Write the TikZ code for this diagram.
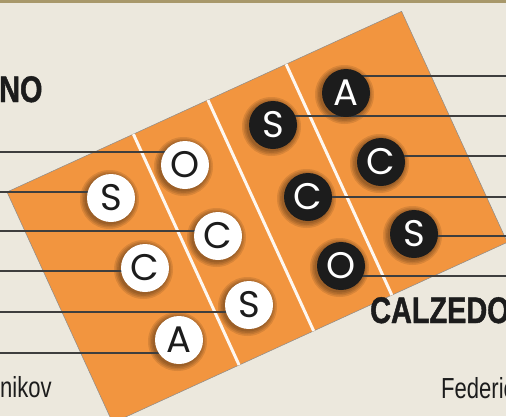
\documentclass[tikz,border=0pt]{standalone}
\usepackage{fontspec}
\newfontfamily\teamfont[FakeStretch=0.76]{Liberation Sans}
\newfontfamily\headfont[FakeStretch=0.78, FakeBold=1.2]{Liberation Sans Bold}
\newfontfamily\discfont{Poppins}
\definecolor{paper}{HTML}{ECE8DD}
\definecolor{rulecol}{HTML}{A8986A}
\definecolor{court}{HTML}{F2953F}
\definecolor{ink}{HTML}{1C1C1C}
\pgfdeclarelayer{bg}
\pgfsetlayers{bg,main}
\tikzset{
  wdisc/.style={circle, fill=white, text=ink, minimum size=48pt, inner sep=0pt,
    font=\discfont\fontsize{37}{37}\selectfont},
  bdisc/.style={wdisc, fill=ink, text=white},
  lead/.style={draw=ink!85, line width=1.3pt},
  courtline/.style={draw=white!92!court, line width=3pt},
  label/.style={anchor=base west, inner sep=0pt, text=ink}
}

\begin{document}
\begin{tikzpicture}[x=1pt, y=-1pt]
    \useasboundingbox (0,0) rectangle (506,416);
    % Left team (white discs)
    \node[wdisc] (w1) at (185,165) {O};
    \node[wdisc] (w2) at (111,198) {S};
    \node[wdisc] (w3) at (218,236) {C};
    \node[wdisc] (w4) at (145,268) {C};
    \node[wdisc] (w5) at (249,305) {S};
    \node[wdisc] (w6) at (179,340) {A};
    % Right team (black discs)
    \node[bdisc] (b1) at (346,93) {A};
    \node[bdisc] (b2) at (273,125) {S};
    \node[bdisc] (b3) at (381,162) {C};
    \node[bdisc] (b4) at (308,197) {C};
    \node[bdisc] (b5) at (414,234) {S};
    \node[bdisc] (b6) at (341,266) {O};
    % Team names and captions
    \node[label, font=\headfont\fontsize{37}{37}\selectfont] (home) at (-1,102) {NO};
    \node[label, font=\headfont\fontsize{37}{37}\selectfont] (away) at (370,323) {CALZEDO};
    \node[label, font=\teamfont\fontsize{29}{29}\selectfont] (cap1) at (0,397) {nikov};
    \node[label, font=\teamfont\fontsize{29}{29}\selectfont] (cap2) at (441,398) {Federic};
    \begin{pgfonlayer}{bg}
    \fill[paper] (0,0) rectangle (506,416);
    \fill[rulecol] (0,0) rectangle (506,3);
    % Court
    \begin{scope}[shift={(7,192)}, rotate=24.6]
        \filldraw[fill=court, draw=black!45, line width=0.5pt] (0,0) rectangle (434,254);
        \draw[courtline] (139,0) -- (139,254);
        \draw[courtline] (221,0) -- (221,254);
        \draw[courtline] (307,0) -- (307,254);
    \end{scope}
    % Soft shadows under the discs
    \foreach \t in {w,b}
        \foreach \i in {1,...,6}
            \foreach \r in {25,26.5,28,29.5}
                \fill[black, opacity=0.1] ([shift={(-1.5,1.5)}]\t\i) circle (\r);
    % Leader lines, left side
    \coordinate (l1) at (0,152);
    \coordinate (l2) at (0,192);
    \coordinate (l3) at (0,231);
    \coordinate (l4) at (0,271);
    \coordinate (l5) at (0,312);
    \coordinate (l6) at (0,353);
    \draw[lead] (l1) -- (l1 -| w1);
    \draw[lead] (l2) -- (l2 -| w2);
    \draw[lead] (l3) -- (l3 -| w3);
    \draw[lead] (l4) -- (l4 -| w4);
    \draw[lead] (l5) -- (l5 -| w5);
    \draw[lead] (l6) -- (l6 -| w6);
    % Leader lines, right side
    \coordinate (r1) at (506,76);
    \coordinate (r2) at (506,116);
    \coordinate (r3) at (506,156);
    \coordinate (r4) at (506,197);
    \coordinate (r5) at (506,236);
    \coordinate (r6) at (506,276);
    \draw[lead] (r1) -- (r1 -| b1);
    \draw[lead] (r2) -- (r2 -| b2);
    \draw[lead] (r3) -- (r3 -| b3);
    \draw[lead] (r4) -- (r4 -| b4);
    \draw[lead] (r5) -- (r5 -| b5);
    \draw[lead] (r6) -- (r6 -| b6);
    \end{pgfonlayer}
\end{tikzpicture}
\end{document}
